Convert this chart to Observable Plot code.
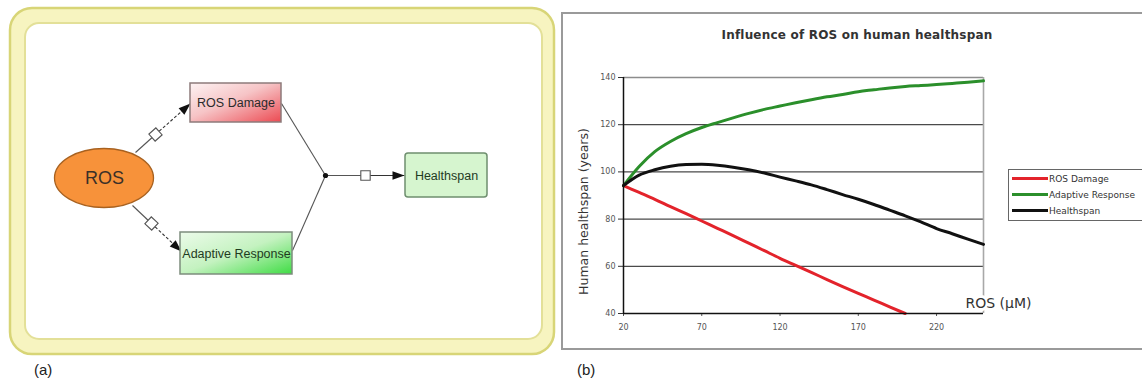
<!DOCTYPE html>
<html>
<head>
<meta charset="utf-8">
<script src="https://cdn.jsdelivr.net/npm/d3@7"></script>
<script src="https://cdn.jsdelivr.net/npm/@observablehq/plot@0.6"></script>
<style>
html, body { margin: 0; padding: 0; background: #fff; }
#root { position: relative; width: 1142px; height: 381px; overflow: hidden; font-family: "Liberation Sans", Arial, sans-serif; }
.abs { position: absolute; }
</style>
</head>
<body>
<div id="root"></div>
<script>
// ---------------- Chart (b) data ----------------
const xValues = [20, 30, 40, 50, 60, 70, 80, 90, 100, 110, 120, 130, 140, 150, 160, 170, 180, 190, 200, 210, 220, 230, 240, 250];
const rosDamage = [94.2, 91.3, 88.4, 85.3, 82.3, 79.2, 76.1, 73.0, 69.8, 66.6, 63.4, 60.4, 57.4, 54.4, 51.4, 48.5, 45.7, 42.8, 40.0];
const adaptiveResponse = [94.2, 102.3, 108.6, 112.9, 116.2, 118.8, 120.9, 122.9, 124.8, 126.5, 127.9, 129.3, 130.6, 131.8, 132.8, 134.0, 134.8, 135.6, 136.2, 136.6, 137.0, 137.5, 138.0, 138.6];
const healthspan = [94.2, 98.6, 100.9, 102.4, 103.1, 103.2, 102.8, 102.0, 100.9, 99.5, 97.8, 96.2, 94.5, 92.5, 90.4, 88.4, 86.2, 83.8, 81.4, 78.8, 76.0, 73.8, 71.5, 69.3];
const seriesNames = ["ROS Damage", "Adaptive Response", "Healthspan"];
const seriesColors = ["#e3232b", "#2b8f2b", "#111111"];
const xTicks = [20, 70, 120, 170, 220];
const yTicks = [40, 60, 80, 100, 120, 140];
const yGrid = [60, 80, 100, 120];
const chartTitle = "Influence of ROS on human healthspan";
const yLabel = "Human healthspan (years)";
const xLabel = "ROS (\u03bcM)";

// ---------------- Diagram (a) data ----------------
const outerFrame = {x1: 10, x2: 554, y1: 8, y2: 354};
const innerFrame = {x1: 25, x2: 542, y1: 23, y2: 339};
const rosNode = {label: "ROS", cx: 104, cy: 178, rx: 49.5, ry: 29.5};
const boxes = [
  {label: "ROS Damage", x1: 190, x2: 281, y1: 83, y2: 122, fill: "url(#gradDamage)", stroke: "#8d7b7b", text: "#2b2b2b"},
  {label: "Adaptive Response", x1: 180, x2: 292, y1: 232, y2: 274, fill: "url(#gradAdaptive)", stroke: "#7d8d7d", text: "#1f3b1f"},
  {label: "Healthspan", x1: 405, x2: 487, y1: 153, y2: 197, fill: "#d6f5cf", stroke: "#6f8f6f", text: "#1f3b1f"}
];
const junction = {x: 325, y: 175};
// arrows: start -> small square -> arrow tip
const arrows = [
  {from: "ROS", to: "ROS Damage", sx: 135, sy: 152, mx: 155, my: 134, tx: 190, ty: 103, dashed: true},
  {from: "ROS", to: "Adaptive Response", sx: 132, sy: 205, mx: 151, my: 223, tx: 181, ty: 251, dashed: true},
  {from: "junction", to: "Healthspan", sx: 325, sy: 175, mx: 365, my: 175, tx: 404, ty: 175, dashed: false}
];
// plain connectors into the junction
const connectors = [
  {x1: 281, y1: 103, x2: 325, y2: 175},
  {x1: 292, y1: 250, x2: 325, y2: 175}
];

// ---------------- build diagram ----------------
const root = document.getElementById("root");

function gradientDefs() {
  const defs = d3.create("svg:defs");
  const g1 = defs.append("linearGradient").attr("id", "gradDamage")
    .attr("x1", "0").attr("y1", "0").attr("x2", "1").attr("y2", "1");
  g1.append("stop").attr("offset", "0%").attr("stop-color", "#fdf3f3");
  g1.append("stop").attr("offset", "45%").attr("stop-color", "#f6c4c6");
  g1.append("stop").attr("offset", "100%").attr("stop-color", "#ec4a52");
  const g2 = defs.append("linearGradient").attr("id", "gradAdaptive")
    .attr("x1", "0").attr("y1", "0").attr("x2", "1").attr("y2", "1");
  g2.append("stop").attr("offset", "0%").attr("stop-color", "#ecfbea");
  g2.append("stop").attr("offset", "50%").attr("stop-color", "#c4f2c0");
  g2.append("stop").attr("offset", "100%").attr("stop-color", "#3fdc44");
  return defs.node();
}

const ellipseMark = (index, scales) => {
  const {x, y} = scales;
  const g = d3.create("svg:g");
  g.append("ellipse")
    .attr("cx", x(rosNode.cx)).attr("cy", y(rosNode.cy))
    .attr("rx", x(rosNode.cx + rosNode.rx) - x(rosNode.cx))
    .attr("ry", y(rosNode.cy + rosNode.ry) - y(rosNode.cy))
    .attr("fill", "#f7923a").attr("stroke", "#a8611f").attr("stroke-width", 1.3);
  return g.node();
};

const headSymbol = {
  draw(context, size) {
    const r = Math.sqrt(size / Math.PI);
    context.moveTo(0, -r);
    context.lineTo(0.72 * r, r);
    context.lineTo(-0.72 * r, r);
    context.closePath();
  }
};
const headR = 6;
const angleOf = (dx, dy) => Math.atan2(dx, -dy) * 180 / Math.PI;
const heads = arrows.map(a => {
  const dx = a.tx - a.mx, dy = a.ty - a.my, L = Math.hypot(dx, dy);
  return {x: a.tx - headR * dx / L, y: a.ty - headR * dy / L, angle: angleOf(dx, dy)};
});
const squares = arrows.map(a => ({x: a.mx, y: a.my, angle: angleOf(a.tx - a.sx, a.ty - a.sy)}));

const diagram = Plot.plot({
  width: 560, height: 381, margin: 0,
  x: {domain: [0, 560], range: [0, 560], axis: null},
  y: {domain: [0, 381], range: [0, 381], axis: null},
  style: {fontFamily: "'Liberation Sans', Arial, sans-serif", background: "transparent", overflow: "visible"},
  marks: [
    gradientDefs,
    Plot.rect([outerFrame], {x1: "x1", x2: "x2", y1: "y1", y2: "y2", rx: 22, fill: "#f7f4c0", stroke: "#d8d577", strokeWidth: 2.5}),
    Plot.rect([innerFrame], {x1: "x1", x2: "x2", y1: "y1", y2: "y2", rx: 14, fill: "#ffffff", stroke: "#e3e098", strokeWidth: 2}),
    Plot.link(connectors, {x1: "x1", y1: "y1", x2: "x2", y2: "y2", stroke: "#555", strokeWidth: 1.1}),
    Plot.link(arrows, {x1: "sx", y1: "sy", x2: "mx", y2: "my", stroke: "#555", strokeWidth: 1.1}),
    Plot.link(arrows.filter(a => a.dashed), {x1: "mx", y1: "my", x2: "tx", y2: "ty", stroke: "#333", strokeWidth: 1.1, strokeDasharray: "3,2"}),
    Plot.link(arrows.filter(a => !a.dashed), {x1: "mx", y1: "my", x2: "tx", y2: "ty", stroke: "#333", strokeWidth: 1.1}),
    Plot.dot(heads, {x: "x", y: "y", r: headR, symbol: headSymbol, rotate: "angle", fill: "#111", stroke: "none"}),
    Plot.dot(squares, {x: "x", y: "y", r: 5.3, symbol: "square", rotate: "angle", fill: "#fff", stroke: "#555", strokeWidth: 1.1}),
    Plot.dot([junction], {x: "x", y: "y", r: 2.6, fill: "#111"}),
    ellipseMark,
    ...boxes.map(b => Plot.rect([b], {x1: "x1", x2: "x2", y1: "y1", y2: "y2", rx: b.label === "Healthspan" ? 3 : 0, fill: b.fill, stroke: b.stroke, strokeWidth: 1.5})),
    Plot.text(boxes, {x: d => (d.x1 + d.x2) / 2, y: d => (d.y1 + d.y2) / 2, text: "label", fill: d => d.text, fontSize: 12.5}),
    Plot.text([rosNode], {x: "cx", y: "cy", text: "label", fontSize: 18, fill: "#3a3028"})
  ]
});
diagram.style.position = "absolute";
diagram.style.left = "0px";
diagram.style.top = "0px";
root.appendChild(diagram);

// ---------------- build chart ----------------
const frameB = document.createElement("div");
frameB.className = "abs";
frameB.style.cssText = "position:absolute;left:561px;top:12px;width:620px;height:338px;border:2px solid #9a9a9a;box-sizing:border-box;background:#fff;";
root.appendChild(frameB);

const table = [];
[rosDamage, adaptiveResponse, healthspan].forEach((vals, k) =>
  vals.forEach((v, i) => table.push({series: seriesNames[k], x: xValues[i], y: v})));

const chart = Plot.plot({
  width: 579, height: 334,
  marginLeft: 60, marginTop: 62, marginRight: 159, marginBottom: 36,
  x: {domain: [20, 250], axis: null, label: null},
  y: {domain: [40, 140], axis: null, label: null},
  color: {domain: seriesNames, range: seriesColors},
  style: {fontFamily: "'DejaVu Sans', sans-serif", fontSize: "8px", background: "transparent", overflow: "visible"},
  marks: [
    Plot.ruleY(yGrid, {stroke: "#4a4a4a", strokeWidth: 1.3}),
    Plot.ruleY([140], {stroke: "#8c8c8c", strokeWidth: 1.3}),
    Plot.ruleX([250], {stroke: "#a8a8a8", strokeWidth: 1.6}),
    Plot.axisY({ticks: yTicks, tickSize: 5, tickPadding: 3, fontSize: 8, fill: "#555", stroke: "#333", label: null, tickFormat: d => String(d)}),
    Plot.axisX({ticks: xTicks, tickSize: 3, tickPadding: 8, fontSize: 8, fill: "#555", stroke: "#555", label: null, tickFormat: d => String(d)}),
    Plot.line(table, {x: "x", y: "y", z: "series", stroke: "series", strokeWidth: 3, curve: "monotone-x"}),
    Plot.ruleX([20], {stroke: "#111", strokeWidth: 1.5}),
    Plot.ruleY([40], {stroke: "#111", strokeWidth: 1.5}),
    Plot.text([xLabel], {text: d => d, frameAnchor: "bottom-right", textAnchor: "start", dx: -18, dy: -6, fontSize: 14, fill: "#333", stroke: "white", strokeWidth: 6}),
    Plot.text([yLabel], {text: d => d, frameAnchor: "left", textAnchor: "middle", rotate: -90, dx: -40, dy: 16, fontSize: 12.5, fill: "#333"})
  ]
});
chart.style.position = "absolute";
chart.style.left = "563px";
chart.style.top = "15px";
root.appendChild(chart);

// title
const title = document.createElement("div");
title.textContent = chartTitle;
title.style.cssText = "position:absolute;left:657px;top:28px;width:400px;text-align:center;font:bold 12px 'DejaVu Sans',sans-serif;line-height:14px;color:#333;white-space:nowrap;letter-spacing:0.2px;";
root.appendChild(title);

// legend
const legend = document.createElement("div");
legend.style.cssText = "position:absolute;left:1008px;top:169px;width:170px;height:52px;border:1px solid #666;box-sizing:border-box;background:#fff;";
seriesNames.forEach((name, k) => {
  const row = document.createElement("div");
  row.style.cssText = `position:absolute;left:3px;top:${2.5 + k * 16}px;height:12px;display:flex;align-items:center;white-space:nowrap;`;
  const sw = document.createElement("div");
  sw.style.cssText = `width:36px;height:3.5px;background:${seriesColors[k]};margin-right:1px;`;
  const tx = document.createElement("span");
  tx.textContent = name;
  tx.style.cssText = "font:9px 'DejaVu Sans',sans-serif;color:#333;";
  row.appendChild(sw); row.appendChild(tx);
  legend.appendChild(row);
});
root.appendChild(legend);

// panel labels
[["(a)", 34], ["(b)", 577]].forEach(([t, left]) => {
  const d = document.createElement("div");
  d.textContent = t;
  d.style.cssText = `position:absolute;left:${left}px;top:361px;font:15px 'Liberation Sans',Arial,sans-serif;line-height:17px;color:#222;`;
  root.appendChild(d);
});
</script>
</body>
</html>
